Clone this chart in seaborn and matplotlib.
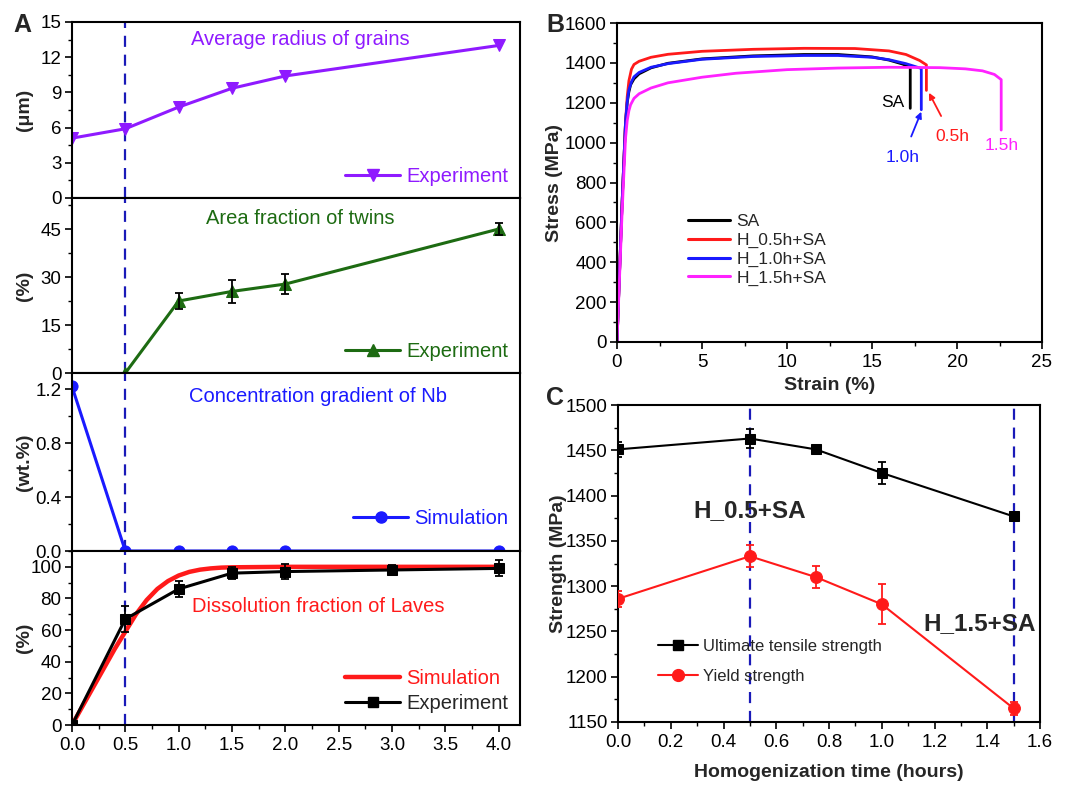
import matplotlib
matplotlib.use("Agg")
import matplotlib.pyplot as plt
from matplotlib.ticker import MultipleLocator, FormatStrFormatter
from matplotlib.lines import Line2D
import seaborn as sns

# ---------------- Panel A: microstructure vs homogenization time ----------------
grain_time = [0.0, 0.5, 1.0, 1.5, 2.0, 4.0]
grain_radius = [5.1, 5.9, 7.75, 9.35, 10.4, 13.0]

twin_time = [0.5, 1.0, 1.5, 2.0, 4.0]
twin_fraction = [0.0, 22.5, 25.5, 27.8, 45.0]
twin_err = [0.0, 2.5, 3.5, 3.0, 2.0]

nb_time = [0.0, 0.5, 1.0, 1.5, 2.0, 4.0]
nb_gradient = [1.22, 0.0, 0.0, 0.0, 0.0, 0.0]

laves_time = [0.0, 0.5, 1.0, 1.5, 2.0, 3.0, 4.0]
laves_exp = [0.0, 67.0, 86.0, 96.0, 97.0, 98.0, 99.0]
laves_err = [0.0, 8.0, 5.0, 4.0, 5.0, 3.0, 5.0]

laves_sim_time = [0.0, 0.1, 0.2, 0.3, 0.4, 0.5, 0.6, 0.7, 0.8, 0.9, 1.0,
                  1.1, 1.2, 1.3, 1.4, 1.5, 2.0, 3.0, 4.0]
laves_sim = [0.0, 12.0, 24.0, 36.0, 48.0, 59.0, 70.0, 79.0, 86.0, 91.0, 94.5,
             96.8, 98.2, 99.0, 99.5, 99.7, 100.0, 100.0, 100.0]

# ---------------- Panel B: engineering stress-strain curves ----------------
strain_sa = [0, 0.3, 0.5, 0.6, 0.7, 0.8, 1.0, 1.3, 2, 3, 5, 8, 11, 13, 15, 16, 16.8, 17.25, 17.25]
stress_sa = [0, 700, 1100, 1200, 1255, 1290, 1320, 1345, 1375, 1398, 1420, 1435, 1442, 1442,
             1430, 1414, 1394, 1378, 1172]

strain_h05 = [0, 0.3, 0.5, 0.6, 0.7, 0.85, 1.0, 1.3, 2, 3, 5, 8, 11, 14, 16, 17, 17.8, 18.2, 18.2]
stress_h05 = [0, 700, 1100, 1230, 1310, 1368, 1392, 1408, 1428, 1443, 1458, 1468, 1473, 1472,
              1460, 1442, 1412, 1390, 1262]

strain_h10 = [0, 0.3, 0.5, 0.6, 0.7, 0.85, 1.0, 1.3, 2, 3, 5, 8, 11, 13, 15, 16, 17, 17.9, 17.9]
stress_h10 = [0, 700, 1100, 1205, 1265, 1305, 1330, 1352, 1378, 1396, 1418, 1432, 1437, 1437,
              1428, 1416, 1396, 1372, 1165]

strain_h15 = [0, 0.3, 0.5, 0.6, 0.7, 0.8, 1.0, 1.3, 2, 3, 5, 7, 10, 13, 16, 19, 20.5, 21.5,
              22.2, 22.6, 22.6]
stress_h15 = [0, 650, 1020, 1110, 1160, 1190, 1222, 1245, 1274, 1300, 1328, 1348, 1366, 1374,
              1378, 1376, 1370, 1360, 1342, 1316, 1063]

curve_labels = ["SA", "H_0.5h+SA", "H_1.0h+SA", "H_1.5h+SA"]
curve_colors = ["#000000", "#ff1a1a", "#1a1aff", "#ff22ff"]

# ---------------- Panel C: strength vs homogenization time ----------------
strength_time = [0.0, 0.5, 0.75, 1.0, 1.5]
uts = [1451, 1463, 1451, 1425, 1377]
uts_err = [8, 10, 3, 12, 3]
ys = [1286, 1333, 1310, 1280, 1165]
ys_err = [9, 12, 12, 22, 7]

# ---------------- styling ----------------
sns.set_theme(style="ticks")
plt.rcParams["font.family"] = ["Liberation Sans", "DejaVu Sans"]
plt.rcParams.update({
    "axes.linewidth": 1.5,
    "xtick.direction": "out",
    "ytick.direction": "out",
    "xtick.major.size": 5,
    "ytick.major.size": 5,
    "xtick.minor.size": 3,
    "ytick.minor.size": 3,
    "xtick.major.width": 1.2,
    "ytick.major.width": 1.2,
    "xtick.minor.width": 1.0,
    "ytick.minor.width": 1.0,
    "xtick.labelsize": 13.5,
    "ytick.labelsize": 13.5,
    "ytick.major.pad": 2.5,
    "axes.edgecolor": "black",
    "xtick.color": "black",
    "ytick.color": "black",
})

W, H = 1065, 785
fig = plt.figure(figsize=(W / 100, H / 100), dpi=100)


def box(left, top, right, bottom):
    return [left / W, 1 - bottom / H, (right - left) / W, (bottom - top) / H]


LABEL_FS = 14
dash_blue = "#1a1ab8"
purple = "#8f1aff"
green = "#1d6b12"
blue = "#1a1aff"
red = "#ff1a1a"

a_left, a_right = 72, 520
a_rows = [22, 198, 373, 551, 725]
axA = [fig.add_axes(box(a_left, a_rows[i], a_right, a_rows[i + 1])) for i in range(4)]

for ax in axA:
    ax.set_xlim(0, 4.2)
    ax.xaxis.set_major_locator(MultipleLocator(0.5))
    ax.xaxis.set_minor_locator(MultipleLocator(0.25))
    ax.axvline(0.5, color=dash_blue, linestyle=(0, (5, 3.5)), linewidth=1.6, zorder=1)
    ax.yaxis.set_label_coords(-0.106, 0.5)
    ax.yaxis.label.set_va("center")
    ax.tick_params(axis="x", labelbottom=False)

legend_kw = dict(loc="lower right", frameon=False, fontsize=14.5, handlelength=2.7,
                 handletextpad=0.3, borderaxespad=0.2)
title_fs = 14.5

# grains
ax = axA[0]
sns.lineplot(x=grain_time, y=grain_radius, ax=ax, color=purple, marker="v", markersize=9,
             markeredgecolor=purple, linewidth=2.2, estimator=None, sort=False)
ax.set_ylim(0, 15)
ax.yaxis.set_major_locator(MultipleLocator(3))
ax.yaxis.set_minor_locator(MultipleLocator(1.5))
ax.set_ylabel("(μm)", fontsize=LABEL_FS, fontweight="bold")
ax.text(0.51, 0.90, "Average radius of grains", transform=ax.transAxes, color=purple,
        fontsize=title_fs, ha="center", va="center")
ax.legend(handles=[Line2D([], [], color=purple, marker="v", markersize=9, linewidth=2.2)],
          labels=["Experiment"], labelcolor=purple, **legend_kw)

# twins
ax = axA[1]
ax.errorbar(twin_time, twin_fraction, yerr=twin_err, fmt="none", ecolor="black",
            elinewidth=1.3, capsize=3, capthick=1.3, zorder=3)
sns.lineplot(x=twin_time, y=twin_fraction, ax=ax, color=green, marker="^", markersize=9,
             markeredgecolor=green, linewidth=2.2, estimator=None, sort=False)
ax.set_ylim(0, 54.7)
ax.yaxis.set_major_locator(MultipleLocator(15))
ax.yaxis.set_minor_locator(MultipleLocator(7.5))
ax.set_ylabel("(%)", fontsize=LABEL_FS, fontweight="bold")
ax.text(0.51, 0.88, "Area fraction of twins", transform=ax.transAxes, color=green,
        fontsize=title_fs, ha="center", va="center")
ax.legend(handles=[Line2D([], [], color=green, marker="^", markersize=9, linewidth=2.2)],
          labels=["Experiment"], labelcolor=green, **legend_kw)

# Nb gradient
ax = axA[2]
sns.lineplot(x=nb_time, y=nb_gradient, ax=ax, color=blue, marker="o", markersize=8,
             markeredgecolor=blue, linewidth=2.2, estimator=None, sort=False)
ax.set_ylim(0, 1.32)
ax.yaxis.set_major_locator(MultipleLocator(0.4))
ax.yaxis.set_minor_locator(MultipleLocator(0.2))
ax.yaxis.set_major_formatter(FormatStrFormatter("%.1f"))
ax.set_ylabel("(wt.%)", fontsize=LABEL_FS, fontweight="bold")
ax.text(0.55, 0.87, "Concentration gradient of Nb", transform=ax.transAxes, color=blue,
        fontsize=title_fs, ha="center", va="center")
ax.legend(handles=[Line2D([], [], color=blue, marker="o", markersize=8, linewidth=2.2)],
          labels=["Simulation"], labelcolor=blue, bbox_to_anchor=(1.0, 0.06), **legend_kw)

# Laves dissolution
ax = axA[3]
sns.lineplot(x=laves_sim_time, y=laves_sim, ax=ax, color=red, linewidth=3.2,
             estimator=None, sort=False, zorder=2)
ax.errorbar(laves_time, laves_exp, yerr=laves_err, fmt="none", ecolor="black",
            elinewidth=1.3, capsize=3, capthick=1.3, zorder=3)
sns.lineplot(x=laves_time, y=laves_exp, ax=ax, color="black", marker="s", markersize=7,
             markeredgecolor="black", linewidth=2.2, estimator=None, sort=False, zorder=4)
ax.set_ylim(0, 110)
ax.yaxis.set_major_locator(MultipleLocator(20))
ax.yaxis.set_minor_locator(MultipleLocator(10))
ax.set_ylabel("(%)", fontsize=LABEL_FS, fontweight="bold")
ax.tick_params(axis="x", labelbottom=True)
ax.xaxis.set_major_formatter(FormatStrFormatter("%.1f"))
ax.text(0.55, 0.68, "Dissolution fraction of Laves", transform=ax.transAxes, color=red,
        fontsize=title_fs, ha="center", va="center")
leg = ax.legend(handles=[Line2D([], [], color=red, linewidth=3.2),
                         Line2D([], [], color="black", marker="s", markersize=7, linewidth=2.2)],
                labels=["Simulation", "Experiment"], labelspacing=0.3, **legend_kw)
leg.get_texts()[0].set_color(red)
ax.set_xlabel("Homogenization time (hours)", fontsize=LABEL_FS, fontweight="bold")
ax.xaxis.set_label_coords(0.5, -0.28)
ax.xaxis.label.set_va("center")

fig.text(22 / W, 1 - 25 / H, "A", fontsize=18, fontweight="bold", ha="center", va="center")

# ---------------- Panel B ----------------
axB = fig.add_axes(box(617, 23, 1042, 342))
for sx, sy, c in zip([strain_sa, strain_h05, strain_h10, strain_h15],
                     [stress_sa, stress_h05, stress_h10, stress_h15], curve_colors):
    sns.lineplot(x=sx, y=sy, ax=axB, color=c, linewidth=2.0, estimator=None, sort=False)
axB.set_xlim(0, 25)
axB.set_ylim(0, 1600)
axB.xaxis.set_major_locator(MultipleLocator(5))
axB.xaxis.set_minor_locator(MultipleLocator(2.5))
axB.yaxis.set_major_locator(MultipleLocator(200))
axB.yaxis.set_minor_locator(MultipleLocator(100))
axB.set_xlabel("Strain (%)", fontsize=LABEL_FS, fontweight="bold")
axB.set_ylabel("Stress (MPa)", fontsize=LABEL_FS, fontweight="bold")
axB.xaxis.set_label_coords(0.5, -0.135)
axB.xaxis.label.set_va("center")
axB.yaxis.set_label_coords(-0.146, 0.5)
axB.yaxis.label.set_va("center")
axB.legend(handles=[Line2D([], [], color=c, linewidth=2.2) for c in curve_colors],
           labels=curve_labels, loc="upper left", bbox_to_anchor=(0.13, 0.45),
           frameon=False, fontsize=12.5, handlelength=2.4, handletextpad=0.4,
           labelspacing=0.2)
axB.text(16.2, 1200, "SA", color="black", fontsize=12.5, ha="center", va="center")
axB.text(22.6, 985, "1.5h", color=curve_colors[3], fontsize=12.5, ha="center", va="center")
axB.annotate("1.0h", xy=(17.9, 1155), xytext=(16.8, 925), color=curve_colors[2],
             fontsize=12.5, ha="center", va="center",
             arrowprops=dict(arrowstyle="-|>", color=curve_colors[2], lw=1.3,
                             shrinkA=8, shrinkB=0, mutation_scale=9))
axB.annotate("0.5h", xy=(18.35, 1250), xytext=(19.7, 1030), color=curve_colors[1],
             fontsize=12.5, ha="center", va="center",
             arrowprops=dict(arrowstyle="-|>", color=curve_colors[1], lw=1.3,
                             shrinkA=8, shrinkB=0, mutation_scale=9))
fig.text(555 / W, 1 - 25 / H, "B", fontsize=18, fontweight="bold", ha="center", va="center")

# ---------------- Panel C ----------------
axC = fig.add_axes(box(618, 405, 1040, 722))
for x0 in (0.5, 1.5):
    axC.axvline(x0, color=dash_blue, linestyle=(0, (5, 3.5)), linewidth=1.6, zorder=1)
axC.errorbar(strength_time, uts, yerr=uts_err, fmt="none", ecolor="black",
             elinewidth=1.3, capsize=3, capthick=1.3, zorder=3)
sns.lineplot(x=strength_time, y=uts, ax=axC, color="black", marker="s", markersize=7.5,
             markeredgecolor="black", linewidth=1.5, estimator=None, sort=False, zorder=4)
axC.errorbar(strength_time, ys, yerr=ys_err, fmt="none", ecolor=red,
             elinewidth=1.3, capsize=3, capthick=1.3, zorder=3)
sns.lineplot(x=strength_time, y=ys, ax=axC, color=red, marker="o", markersize=8.5,
             markeredgecolor=red, linewidth=1.5, estimator=None, sort=False, zorder=4)
axC.set_xlim(0, 1.6)
axC.set_ylim(1150, 1500)
axC.xaxis.set_major_locator(MultipleLocator(0.2))
axC.xaxis.set_minor_locator(MultipleLocator(0.1))
axC.xaxis.set_major_formatter(FormatStrFormatter("%.1f"))
axC.yaxis.set_major_locator(MultipleLocator(50))
axC.yaxis.set_minor_locator(MultipleLocator(25))
axC.set_xlabel("Homogenization time (hours)", fontsize=LABEL_FS, fontweight="bold")
axC.set_ylabel("Strength (MPa)", fontsize=LABEL_FS, fontweight="bold")
axC.xaxis.set_label_coords(0.5, -0.158)
axC.xaxis.label.set_va("center")
axC.yaxis.set_label_coords(-0.142, 0.5)
axC.yaxis.label.set_va("center")
axC.text(0.5, 1384, "H_0.5+SA", fontsize=17.5, fontweight="bold", ha="center", va="center")
axC.text(1.37, 1259, "H_1.5+SA", fontsize=17.5, fontweight="bold", ha="center", va="center")
axC.legend(handles=[Line2D([], [], color="black", marker="s", markersize=7.5, linewidth=1.5),
                    Line2D([], [], color=red, marker="o", markersize=8.5, linewidth=1.5)],
           labels=["Ultimate tensile strength", "Yield strength"], loc="upper left",
           bbox_to_anchor=(0.06, 0.31), frameon=False, fontsize=12, handlelength=2.4,
           handletextpad=0.3, labelspacing=0.9)
fig.text(555 / W, 1 - 398 / H, "C", fontsize=18, fontweight="bold", ha="center", va="center")

fig.savefig("out.png", dpi=100)
